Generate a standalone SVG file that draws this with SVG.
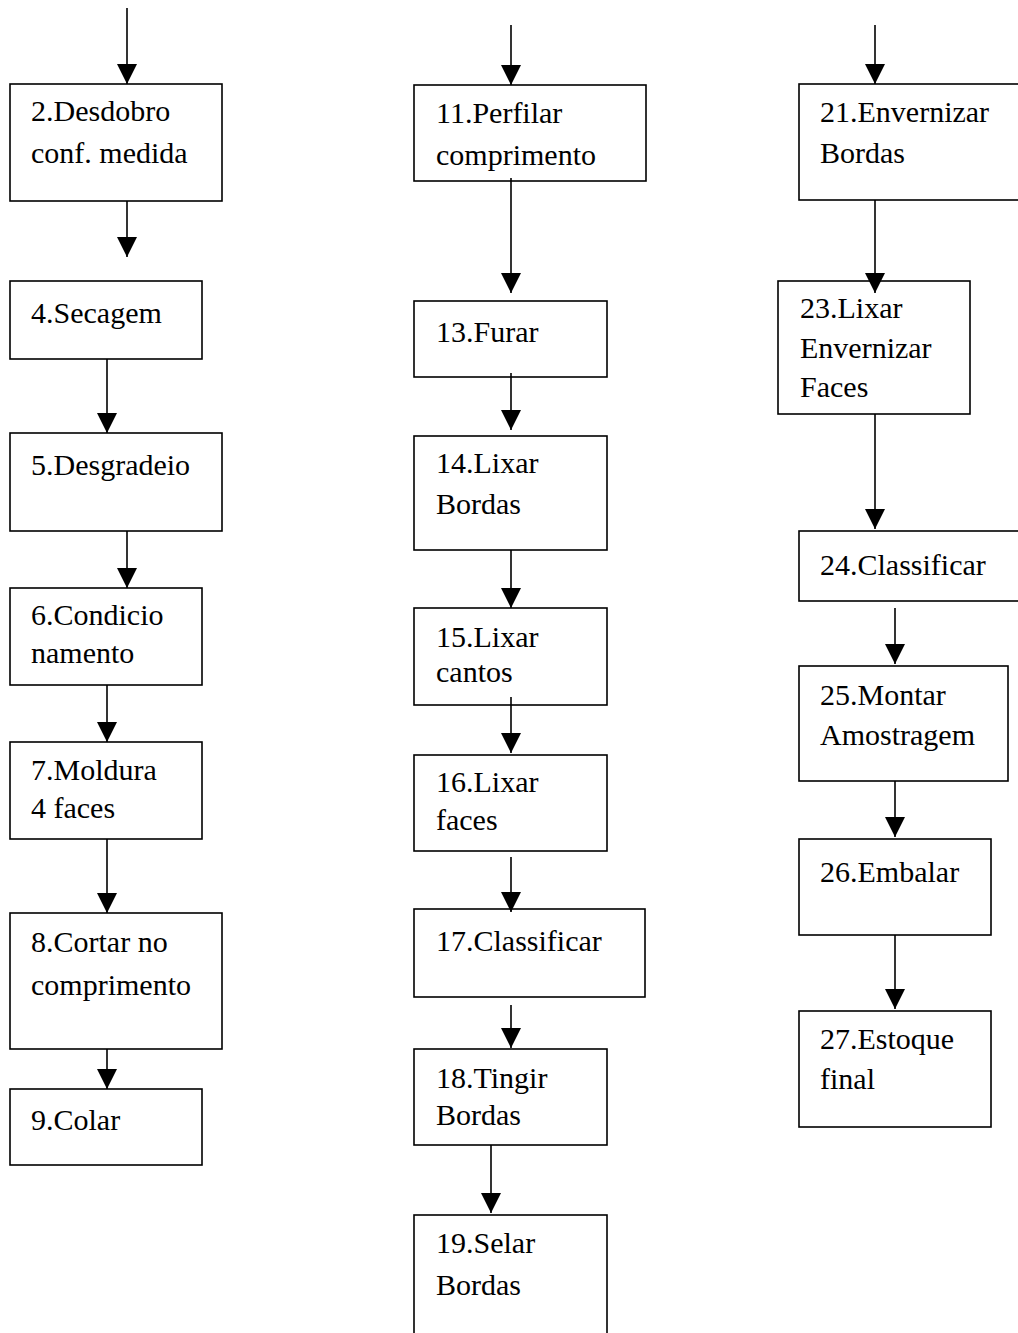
<svg xmlns="http://www.w3.org/2000/svg" width="1018" height="1333" viewBox="0 0 1018 1333">
<style>
.box{fill:#fff;stroke:#000;stroke-width:1.6}
.lbl{font-family:"Liberation Serif","Times New Roman",serif;font-size:30px;fill:#000}
.arr{stroke:#000;stroke-width:1.6;fill:none;marker-end:url(#ah)}
</style>
<defs>
<marker id="ah" markerUnits="userSpaceOnUse" markerWidth="20" markerHeight="20" viewBox="0 0 20 20" refX="20" refY="10" orient="auto">
<path d="M0,0 L20,10 L0,20 z" fill="#000"/>
</marker>
</defs>
<rect width="1018" height="1333" fill="#fff"/>

<g id="n2"><rect class="box" x="10" y="84" width="212" height="117"/><text class="lbl" x="31" y="121">2.Desdobro</text><text class="lbl" x="31" y="163">conf. medida</text></g>
<g id="n4"><rect class="box" x="10" y="281" width="192" height="78"/><text class="lbl" x="31" y="323">4.Secagem</text></g>
<g id="n5"><rect class="box" x="10" y="433" width="212" height="98"/><text class="lbl" x="31" y="475">5.Desgradeio</text></g>
<g id="n6"><rect class="box" x="10" y="588" width="192" height="97"/><text class="lbl" x="31" y="625">6.Condicio</text><text class="lbl" x="31" y="663">namento</text></g>
<g id="n7"><rect class="box" x="10" y="742" width="192" height="97"/><text class="lbl" x="31" y="780">7.Moldura</text><text class="lbl" x="31" y="818">4 faces</text></g>
<g id="n8"><rect class="box" x="10" y="913" width="212" height="136"/><text class="lbl" x="31" y="952">8.Cortar no</text><text class="lbl" x="31" y="995">comprimento</text></g>
<g id="n9"><rect class="box" x="10" y="1089" width="192" height="76"/><text class="lbl" x="31" y="1130">9.Colar</text></g>

<g id="n11"><rect class="box" x="414" y="85" width="232" height="96"/><text class="lbl" x="436" y="123">11.Perfilar</text><text class="lbl" x="436" y="165">comprimento</text></g>
<g id="n13"><rect class="box" x="414" y="301" width="193" height="76"/><text class="lbl" x="436" y="342">13.Furar</text></g>
<g id="n14"><rect class="box" x="414" y="436" width="193" height="114"/><text class="lbl" x="436" y="473">14.Lixar</text><text class="lbl" x="436" y="514">Bordas</text></g>
<g id="n15"><rect class="box" x="414" y="608" width="193" height="97"/><text class="lbl" x="436" y="647">15.Lixar</text><text class="lbl" x="436" y="682">cantos</text></g>
<g id="n16"><rect class="box" x="414" y="755" width="193" height="96"/><text class="lbl" x="436" y="792">16.Lixar</text><text class="lbl" x="436" y="830">faces</text></g>
<g id="n17"><rect class="box" x="414" y="909" width="231" height="88"/><text class="lbl" x="436" y="951">17.Classificar</text></g>
<g id="n18"><rect class="box" x="414" y="1049" width="193" height="96"/><text class="lbl" x="436" y="1088">18.Tingir</text><text class="lbl" x="436" y="1125">Bordas</text></g>
<g id="n19"><rect class="box" x="414" y="1215" width="193" height="140"/><text class="lbl" x="436" y="1253">19.Selar</text><text class="lbl" x="436" y="1295">Bordas</text></g>

<g id="n21"><rect class="box" x="799" y="84" width="240" height="116"/><text class="lbl" x="820" y="122">21.Envernizar</text><text class="lbl" x="820" y="163">Bordas</text></g>
<g id="n23"><rect class="box" x="778" y="281" width="192" height="133"/><text class="lbl" x="800" y="318">23.Lixar</text><text class="lbl" x="800" y="358">Envernizar</text><text class="lbl" x="800" y="397">Faces</text></g>
<g id="n24"><rect class="box" x="799" y="531" width="240" height="70"/><text class="lbl" x="820" y="575">24.Classificar</text></g>
<g id="n25"><rect class="box" x="799" y="666" width="209" height="115"/><text class="lbl" x="820" y="705">25.Montar</text><text class="lbl" x="820" y="745">Amostragem</text></g>
<g id="n26"><rect class="box" x="799" y="839" width="192" height="96"/><text class="lbl" x="820" y="882">26.Embalar</text></g>
<g id="n27"><rect class="box" x="799" y="1011" width="192" height="116"/><text class="lbl" x="820" y="1049">27.Estoque</text><text class="lbl" x="820" y="1089">final</text></g>

<g id="connectors">
<line class="arr" x1="127" y1="8" x2="127" y2="84"/>
<line class="arr" x1="127" y1="201" x2="127" y2="257"/>
<line class="arr" x1="107" y1="359" x2="107" y2="433"/>
<line class="arr" x1="127" y1="531" x2="127" y2="588"/>
<line class="arr" x1="107" y1="685" x2="107" y2="742"/>
<line class="arr" x1="107" y1="839" x2="107" y2="913"/>
<line class="arr" x1="107" y1="1049" x2="107" y2="1089"/>

<line class="arr" x1="511" y1="25" x2="511" y2="85"/>
<line class="arr" x1="511" y1="178" x2="511" y2="293"/>
<line class="arr" x1="511" y1="373" x2="511" y2="430"/>
<line class="arr" x1="511" y1="550" x2="511" y2="608"/>
<line class="arr" x1="511" y1="697" x2="511" y2="753"/>
<line class="arr" x1="511" y1="857" x2="511" y2="912"/>
<line class="arr" x1="511" y1="1005" x2="511" y2="1048"/>
<line class="arr" x1="491" y1="1145" x2="491" y2="1213"/>

<line class="arr" x1="875" y1="25" x2="875" y2="84"/>
<line class="arr" x1="875" y1="200" x2="875" y2="293"/>
<line class="arr" x1="875" y1="414" x2="875" y2="529"/>
<line class="arr" x1="895" y1="608" x2="895" y2="664"/>
<line class="arr" x1="895" y1="781" x2="895" y2="837"/>
<line class="arr" x1="895" y1="935" x2="895" y2="1009"/>
</g>
</svg>
